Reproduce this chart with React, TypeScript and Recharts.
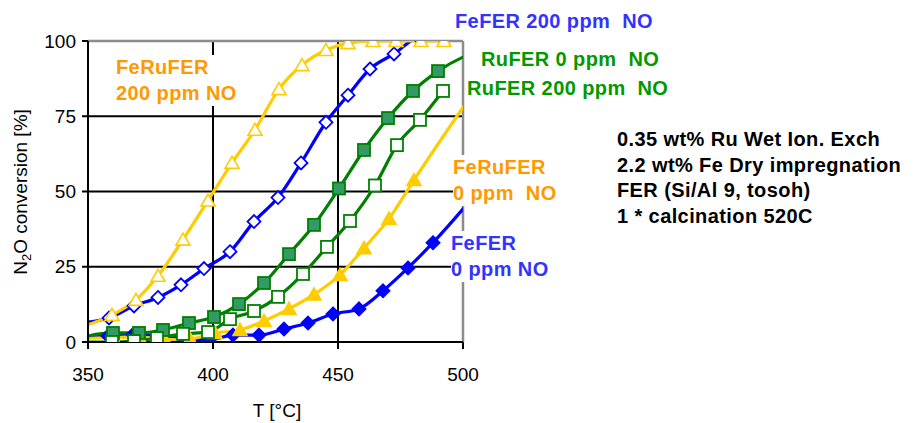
import React from "react";
import { LineChart, Line, XAxis, YAxis, ReferenceLine } from "recharts";

const FONT = "'Liberation Sans', Arial, sans-serif";

// temperatures [°C] and N2O conversion [%] per sample
const feFer0Temp = [341, 358, 368, 378, 388, 398, 408, 418.4, 428.4, 438, 448, 458.4, 468, 478, 488, 508];
const feFer0Conv = [1.7, 2, 2.5, 2, 1.5, 0.5, 2.3, 2.3, 4.3, 6.3, 9.3, 11, 17, 24.6, 33, 52];

const feRuFer0Temp = [341, 360, 370.4, 380.8, 390.8, 400.8, 410.8, 420.4, 430.4, 440.4, 450.8, 460.4, 470.4, 480.4, 510];
const feRuFer0Conv = [1, 1.5, 1.7, 0.7, 1, 3, 4, 7, 11, 15.8, 22.3, 31.2, 41, 53.8, 90];

const feFer200Temp = [339, 358.4, 368.4, 378, 387.2, 396.4, 406.8, 416.4, 426, 435.2, 445.2, 454, 462.8, 472.4, 482.4, 492];
const feFer200Conv = [5.7, 8, 12, 14.8, 19, 24.4, 30, 40, 48, 59.5, 73, 82, 90.7, 95.7, 101, 101];

const feRuFer200Temp = [341, 359.6, 369.2, 378, 388, 398, 407.6, 416.8, 426.4, 435.6, 445.2, 454, 464, 473.2, 483.2, 492.4];
const feRuFer200Conv = [3.8, 9, 14, 22, 34, 47, 59.5, 70.5, 84, 92, 97, 99.3, 100, 100, 100, 100];

const ruFer0Temp = [341, 360, 370.4, 380, 390.4, 400.4, 410.4, 420.4, 430.4, 440.4, 450.4, 460.4, 470, 480, 490, 510];
const ruFer0Conv = [0, 3, 3, 4, 6.3, 8.3, 12.6, 19.6, 29.2, 38.9, 51, 63.8, 74.4, 83.4, 90, 98];

const ruFer200Temp = [341, 359.6, 368.4, 377.6, 388, 398, 406.8, 416.4, 426, 436, 445.6, 454.8, 464.8, 473.6, 482.8, 492];
const ruFer200Conv = [0, 0, 0.3, 1.3, 2.7, 3.3, 7.6, 10.3, 15, 22.6, 31.6, 40.2, 52, 65.4, 73.8, 83.4];

const xTicks = [350, 400, 450, 500];
const yTicks = [0, 25, 50, 75, 100];

const zip = (t: number[], v: number[]) => t.map((x, i) => ({ x, y: v[i] }));

const YELLOW = "#FFCC00";
const BLUE = "#0000FF";
const GREEN = "#008000";

const triangle = (fill: string) => (p: any) => {
  const { cx, cy, index } = p;
  if (cx == null || cy == null) return <g key={index} />;
  return (
    <path
      key={index}
      d={`M${cx},${cy - 6.5} L${cx + 7},${cy + 5.5} L${cx - 7},${cy + 5.5} Z`}
      fill={fill}
      stroke={YELLOW}
      strokeWidth={1.6}
    />
  );
};

const diamond = (fill: string) => (p: any) => {
  const { cx, cy, index } = p;
  if (cx == null || cy == null) return <g key={index} />;
  return (
    <path
      key={index}
      d={`M${cx},${cy - 6.5} L${cx + 6.5},${cy} L${cx},${cy + 6.5} L${cx - 6.5},${cy} Z`}
      fill={fill}
      stroke={BLUE}
      strokeWidth={1.8}
    />
  );
};

const square = (fill: string) => (p: any) => {
  const { cx, cy, index } = p;
  if (cx == null || cy == null) return <g key={index} />;
  return <rect key={index} x={cx - 6} y={cy - 6} width={12} height={12} fill={fill} stroke={GREEN} strokeWidth={1.8} />;
};

const label = (left: number, top: number, color: string, lines: string[], bg = true) => (
  <div
    style={{
      position: "absolute",
      left,
      top,
      color,
      fontWeight: "bold",
      fontSize: 20,
      letterSpacing: 0.4,
      lineHeight: "25.5px",
      whiteSpace: "pre",
      background: bg ? "#fff" : "transparent",
    }}
  >
    {lines.map((l, i) => (
      <div key={i}>{l}</div>
    ))}
  </div>
);

export default function App() {
  return (
    <div style={{ position: "absolute", left: 0, top: 0, width: 915, height: 423, background: "#fff", fontFamily: FONT }}>
      <LineChart width={915} height={423} margin={{ top: 41, right: 452, bottom: 1, left: 0 }}>
        <XAxis
          type="number"
          dataKey="x"
          domain={[350, 500]}
          ticks={xTicks}
          allowDataOverflow
          height={80}
          axisLine={{ stroke: "#000", strokeWidth: 2 }}
          tickLine={{ stroke: "#000", strokeWidth: 2 }}
          tickSize={7}
          tickMargin={19}
          tick={{ fill: "#000", fontSize: 19, fontFamily: FONT }}
        />
        <YAxis
          type="number"
          dataKey="y"
          domain={[0, 100]}
          ticks={yTicks}
          allowDataOverflow
          width={88}
          axisLine={{ stroke: "#000", strokeWidth: 2 }}
          tickLine={{ stroke: "#000", strokeWidth: 2 }}
          tickSize={6}
          tickMargin={6}
          tick={{ fill: "#000", fontSize: 19, fontFamily: FONT }}
        />
        <ReferenceLine y={25} stroke="#000" strokeWidth={2} />
        <ReferenceLine y={50} stroke="#000" strokeWidth={2} />
        <ReferenceLine y={75} stroke="#000" strokeWidth={2} />
        <ReferenceLine x={400} stroke="#000" strokeWidth={2} />
        <ReferenceLine x={450} stroke="#000" strokeWidth={2} />
        <ReferenceLine y={100} stroke="#8c8c8c" strokeWidth={2.5} />
        <ReferenceLine x={500} stroke="#8c8c8c" strokeWidth={2.5} />
        <Line data={zip(feFer0Temp, feFer0Conv)} dataKey="y" type="monotone" stroke={BLUE} strokeWidth={3.2} dot={diamond(BLUE)} isAnimationActive={false} />
        <Line data={zip(feRuFer0Temp, feRuFer0Conv)} dataKey="y" type="monotone" stroke={YELLOW} strokeWidth={3.2} dot={triangle(YELLOW)} isAnimationActive={false} />
        <Line data={zip(feFer200Temp, feFer200Conv)} dataKey="y" type="monotone" stroke={BLUE} strokeWidth={3.2} dot={diamond("#fff")} isAnimationActive={false} />
        <Line data={zip(feRuFer200Temp, feRuFer200Conv)} dataKey="y" type="monotone" stroke={YELLOW} strokeWidth={3.2} dot={triangle("#fff")} isAnimationActive={false} />
        <Line data={zip(ruFer0Temp, ruFer0Conv)} dataKey="y" type="monotone" stroke={GREEN} strokeWidth={3.2} dot={square("#339966")} isAnimationActive={false} />
        <Line data={zip(ruFer200Temp, ruFer200Conv)} dataKey="y" type="monotone" stroke={GREEN} strokeWidth={3.2} dot={square("#fff")} isAnimationActive={false} />
      </LineChart>

      {label(455, 9, "#3333FF", ["FeFER 200 ppm  NO"])}
      {label(481, 47, "#009900", ["RuFER 0 ppm  NO"])}
      {label(467, 76, "#009900", ["RuFER 200 ppm  NO"])}
      {label(116, 55, "#FF9900", ["FeRuFER", "200 ppm NO"])}
      {label(453, 155, "#FF9900", ["FeRuFER", "0 ppm  NO"])}
      {label(451, 231, "#3333FF", ["FeFER", "0 ppm NO"])}
      {label(617, 127, "#000", ["0.35 wt% Ru Wet Ion. Exch", "2.2 wt% Fe Dry impregnation", "FER (Si/Al 9, tosoh)", "1 * calcination 520C"], false)}

      <div
        style={{
          position: "absolute",
          left: 22,
          top: 192,
          transform: "translate(-50%, -50%) rotate(-90deg)",
          fontSize: 19,
          whiteSpace: "nowrap",
          color: "#000",
        }}
      >
        N<sub style={{ fontSize: 13, verticalAlign: "-4px" }}>2</sub>O conversion [%]
      </div>
      <div
        style={{
          position: "absolute",
          left: 277,
          top: 411,
          transform: "translate(-50%, -50%)",
          fontSize: 19,
          whiteSpace: "nowrap",
          color: "#000",
        }}
      >
        T [°C]
      </div>
    </div>
  );
}
